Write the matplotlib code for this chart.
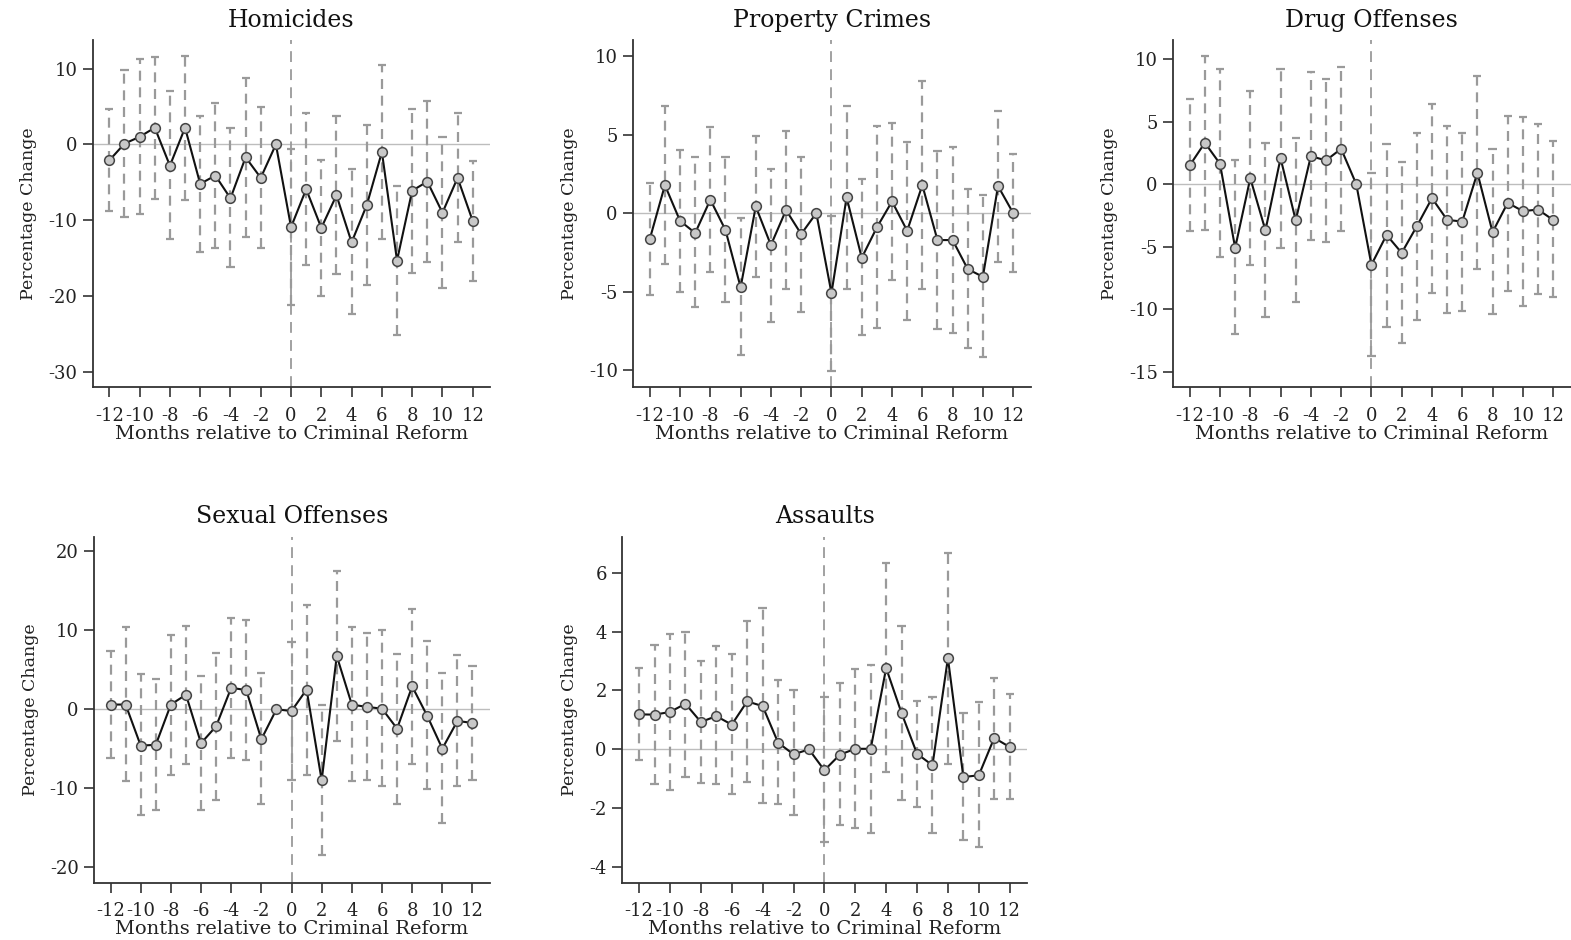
import numpy as np
import matplotlib
matplotlib.use('Agg')
import matplotlib.pyplot as plt

plt.rcParams['font.family'] = ['DejaVu Serif']

# --- DATA ---
months = list(range(-12, 13))
nan = np.nan

hom_coef = [-2.1, 0.1, 1.0, 2.2, -2.8, 2.2, -5.2, -4.1, -7.1, -1.7, -4.4, 0.0,
            -10.9, -5.9, -11.0, -6.7, -12.9, -8.0, -1.0, -15.3, -6.1, -4.9, -9.0, -4.4, -10.1]
hom_lo = [-8.8, -9.6, -9.2, -7.2, -12.5, -7.3, -14.2, -13.6, -16.2, -12.2, -13.6, nan,
          -21.1, -15.9, -20.0, -17.1, -22.4, -18.5, -12.5, -25.1, -16.9, -15.5, -18.9, -12.9, -18.0]
hom_hi = [4.7, 9.8, 11.3, 11.5, 7.0, 11.6, 3.8, 5.4, 2.1, 8.7, 4.9, nan,
          -0.6, 4.2, -2.0, 3.8, -3.3, 2.5, 10.4, -5.5, 4.7, 5.7, 1.0, 4.1, -2.2]

prop_coef = [-1.66, 1.78, -0.5, -1.27, 0.85, -1.08, -4.73, 0.42, -2.04, 0.19, -1.34, 0.0,
             -5.1, 1.0, -2.85, -0.91, 0.74, -1.13, 1.78, -1.72, -1.72, -3.57, -4.06, 1.72, 0.0]
prop_lo = [-5.2, -3.25, -5.0, -6.0, -3.78, -5.65, -9.05, -4.1, -6.92, -4.86, -6.28, nan,
           -10.04, -4.86, -7.77, -7.35, -4.27, -6.8, -4.84, -7.39, -7.66, -8.62, -9.19, -3.14, -3.74]
prop_hi = [1.9, 6.8, 4.03, 3.55, 5.5, 3.55, -0.3, 4.93, 2.8, 5.2, 3.6, nan,
           -0.2, 6.84, 2.17, 5.52, 5.75, 4.5, 8.39, 3.93, 4.18, 1.51, 1.17, 6.52, 3.76]

drug_coef = [1.5, 3.31, 1.63, -5.1, 0.48, -3.7, 2.08, -2.9, 2.24, 1.9, 2.83, 0.0,
             -6.45, -4.06, -5.5, -3.36, -1.12, -2.86, -2.99, 0.91, -3.84, -1.49, -2.16, -2.03, -2.86]
drug_lo = [-3.71, -3.66, -5.84, -11.98, -6.43, -10.6, -5.1, -9.39, -4.46, -4.59, -3.71, nan,
           -13.75, -11.4, -12.73, -10.86, -8.73, -10.33, -10.11, -6.78, -10.38, -8.51, -9.71, -8.78, -9.05]
drug_hi = [6.83, 10.25, 9.18, 1.9, 7.45, 3.31, 9.23, 3.68, 8.94, 8.41, 9.37, nan,
           0.91, 3.23, 1.81, 4.08, 6.38, 4.65, 4.11, 8.65, 2.78, 5.44, 5.36, 4.78, 3.44]

sex_coef = [0.6, 0.6, -4.6, -4.5, 0.6, 1.85, -4.3, -2.15, 2.72, 2.43, -3.8, 0.0,
            -0.22, 2.5, -9.0, 6.75, 0.59, 0.3, 0.08, -2.45, 2.9, -0.84, -4.98, -1.48, -1.73]
sex_lo = [-6.12, -9.08, -13.43, -12.71, -8.28, -6.88, -12.71, -11.53, -6.17, -6.38, -12.04, nan,
          -8.91, -8.28, -18.5, -4.01, -9.08, -9.0, -9.71, -11.95, -6.88, -10.14, -14.36, -9.75, -8.91]
sex_hi = [7.39, 10.43, 4.43, 3.8, 9.46, 10.56, 4.22, 7.18, 11.57, 11.28, 4.65, nan,
          8.53, 13.26, 0.59, 17.48, 10.43, 9.71, 10.09, 7.05, 12.67, 8.61, 4.65, 6.93, 5.45]

asl_coef = [1.19, 1.18, 1.27, 1.55, 0.93, 1.13, 0.84, 1.63, 1.47, 0.23, -0.17, 0.0,
            -0.71, -0.18, 0.02, 0.02, 2.76, 1.23, -0.15, -0.54, 3.1, -0.94, -0.88, 0.39, 0.08]
asl_lo = [-0.35, -1.17, -1.37, -0.94, -1.13, -1.19, -1.51, -1.11, -1.81, -1.85, -2.24, nan,
          -3.15, -2.58, -2.67, -2.83, -0.77, -1.71, -1.96, -2.83, -0.49, -3.09, -3.3, -1.68, -1.7]
asl_hi = [2.76, 3.53, 3.91, 3.99, 3.0, 3.51, 3.25, 4.36, 4.8, 2.34, 2.0, nan,
          1.78, 2.26, 2.72, 2.88, 6.33, 4.18, 1.63, 1.78, 6.68, 1.25, 1.61, 2.42, 1.89]

xticks = list(range(-12, 13, 2))

fig = plt.figure(figsize=(15.71, 9.40), dpi=100)

panels = [
    ('Homicides',       hom_coef,  hom_lo,  hom_hi,  (-32, 13.7),    [-30, -20, -10, 0, 10],
     [0.059, 0.588, 0.253, 0.369]),
    ('Property Crimes', prop_coef, prop_lo, prop_hi, (-11.1, 11.0),  [-10, -5, 0, 5, 10],
     [0.403, 0.588, 0.253, 0.369]),
    ('Drug Offenses',   drug_coef, drug_lo, drug_hi, (-16.25, 11.5), [-15, -10, -5, 0, 5, 10],
     [0.7467, 0.588, 0.253, 0.369]),
    ('Sexual Offenses', sex_coef,  sex_lo,  sex_hi,  (-22, 21.8),    [-20, -10, 0, 10, 20],
     [0.0598, 0.0606, 0.252, 0.368]),
    ('Assaults',        asl_coef,  asl_lo,  asl_hi,  (-4.54, 7.21),  [-4, -2, 0, 2, 4, 6],
     [0.396, 0.0606, 0.258, 0.368]),
]

ci_color = '#9a9a9a'
x = np.array(months, dtype=float)

for title, coef, lo, hi, ylim, yticks, rect in panels:
    ax = fig.add_axes(rect)
    lo = np.array(lo)
    hi = np.array(hi)

    # reference lines
    ax.axhline(0, color='#bdbdbd', lw=1.0, zorder=1)
    ax.axvline(0, color=ci_color, lw=1.3, ls=(0, (6, 4)), zorder=1)

    # confidence intervals (dashed bars with caps)
    ok = ~np.isnan(lo)
    ax.vlines(x[ok], lo[ok], hi[ok], colors=ci_color, lw=1.6,
              linestyles=(0, (4.5, 3)), zorder=2)
    ax.hlines(lo[ok], x[ok] - 0.27, x[ok] + 0.27, colors=ci_color, lw=1.6, zorder=2)
    ax.hlines(hi[ok], x[ok] - 0.27, x[ok] + 0.27, colors=ci_color, lw=1.6, zorder=2)

    # point estimates
    ax.plot(x, coef, color='#111111', lw=1.5, marker='o', ms=7,
            mfc='#c8c8c8', mec='#444444', mew=1.1, zorder=3)

    ax.set_xlim(-13.1, 13.15)
    ax.set_ylim(*ylim)
    ax.set_xticks(xticks)
    ax.set_xticklabels([str(t) for t in xticks])
    ax.set_yticks(yticks)
    ax.set_yticklabels([str(t) for t in yticks])

    for s in ['top', 'right']:
        ax.spines[s].set_visible(False)
    for s in ['left', 'bottom']:
        ax.spines[s].set_color('#333333')
        ax.spines[s].set_linewidth(1.3)
    ax.tick_params(axis='both', direction='out', length=7, width=1.2,
                   color='#333333', labelsize=13, labelcolor='#222222', pad=4)
    ax.tick_params(axis='x', pad=7)

    ax.set_title(title, fontsize=17, color='#111111', pad=10)
    ax.set_xlabel('Months relative to Criminal Reform', fontsize=14,
                  color='#222222', labelpad=0)
    ax.set_ylabel('Percentage Change', fontsize=12.5, color='#222222', labelpad=8)

fig.savefig('out.png', dpi=100, facecolor='white')
